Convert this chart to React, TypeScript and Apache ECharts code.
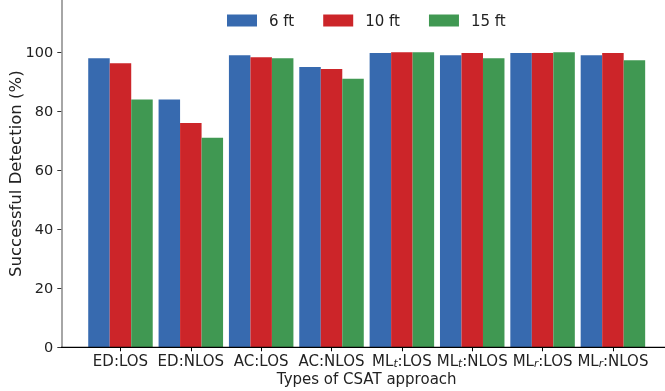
import React, { useEffect, useRef } from "react";
import * as echarts from "echarts";

const categories = ["ED:LOS", "ED:NLOS", "AC:LOS", "AC:NLOS", "ML_t:LOS", "ML_t:NLOS", "ML_r:LOS", "ML_r:NLOS"];
const seriesNames = ["6 ft", "10 ft", "15 ft"];
const values6 = [98, 84, 99, 95, 99.7, 99, 99.7, 99];
const values10 = [96.3, 76, 98.3, 94.3, 100, 99.7, 99.7, 99.7];
const values15 = [84, 71, 98, 91, 100, 98, 100, 97.3];
const yTicks = [0, 20, 40, 60, 80, 100];
const colors = ["#376AAF", "#CC2529", "#409852"];

const FONT = "DejaVu Sans";

function fmtCat(v: string): string {
  const i = v.indexOf("_");
  if (i < 0) return "{n|" + v + "}";
  const base = v.slice(0, i);
  const sub = v.slice(i + 1, i + 2);
  const rest = v.slice(i + 2);
  return "{n|" + base + "}{s|" + sub + "}{n|" + rest + "}";
}

export default function App() {
  const ref = useRef<HTMLDivElement>(null);
  useEffect(() => {
    if (!ref.current) return;
    const chart = echarts.init(ref.current, null, { renderer: "svg" });
    const all = [values6, values10, values15];
    chart.setOption({
      animation: false,
      textStyle: { fontFamily: FONT },
      grid: { left: 85.3, right: 16.9, top: 0, bottom: 43.7, containLabel: false, outerBoundsMode: "none" },
      legend: {
        left: 227,
        top: 13,
        padding: 0,
        itemWidth: 30,
        itemHeight: 12,
        itemGap: 29,
        icon: "rect",
        textStyle: { fontFamily: FONT, fontSize: 15, color: "#222", padding: [0, 0, 0, 7] },
        data: seriesNames,
      },
      xAxis: {
        type: "category",
        data: categories,
        axisLine: { show: false },
        axisTick: { show: true, alignWithLabel: true, length: 4, lineStyle: { color: "#000" } },
        axisLabel: {
          margin: 3,
          interval: 0,
          formatter: fmtCat,
          rich: {
            n: { fontFamily: FONT, fontSize: 15, color: "#222", lineHeight: 18, verticalAlign: "bottom" },
            s: { fontFamily: FONT, fontSize: 10.5, fontStyle: "italic", color: "#222", lineHeight: 12, verticalAlign: "bottom" },
          },
        },
        name: "Types of CSAT approach",
        nameLocation: "middle",
        nameGap: 24,
        nameMoveOverlap: false,
        nameTextStyle: { fontFamily: FONT, fontSize: 15, color: "#222" },
      },
      yAxis: {
        type: "value",
        min: 0,
        max: 117.7,
        interval: 20,
        offset: 24,
        splitLine: { show: false },
        axisLine: { show: true, lineStyle: { color: "#888", width: 1.5 } },
        axisTick: { show: true, length: 4, customValues: yTicks, lineStyle: { color: "#333" } },
        axisLabel: { customValues: yTicks, fontFamily: FONT, fontSize: 14.5, color: "#222", margin: 8 },
        name: "Successful Detection (%)",
        nameLocation: "middle",
        nameGap: 37,
        nameMoveOverlap: false,
        nameTextStyle: { fontFamily: FONT, fontSize: 16.5, color: "#222" },
      },
      graphic: [
        {
          type: "line",
          shape: { x1: 61, y1: 347.3, x2: 665, y2: 347.3 },
          style: { stroke: "#000", lineWidth: 1.2 },
          z: 10,
        },
      ],
      series: seriesNames.map((name, k) => ({
        name,
        type: "bar",
        data: all[k],
        barWidth: 21.5,
        barGap: "0%",
        itemStyle: { color: colors[k] },
      })),
    });
    return () => chart.dispose();
  }, []);
  return <div ref={ref} style={{ position: "fixed", left: 0, top: 0, width: 665, height: 391 }} />;
}
